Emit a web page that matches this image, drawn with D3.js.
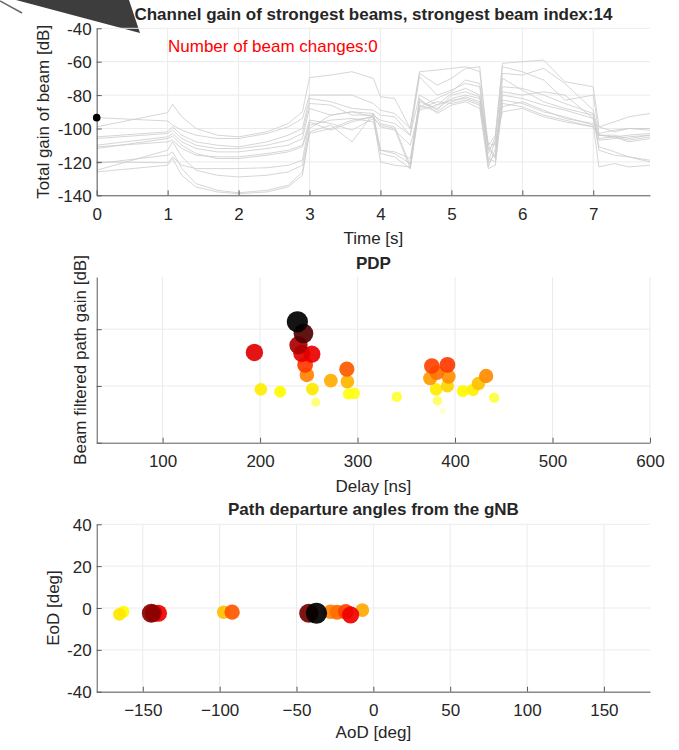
<!DOCTYPE html>
<html><head><meta charset="utf-8">
<script src="https://cdn.jsdelivr.net/npm/d3@7"></script>
<style>
body{margin:0;background:#fff;}
text{font-family:"Liberation Sans", Arial, Helvetica, sans-serif;}
</style></head><body>
<svg id="c" width="679" height="750"></svg>
<script>
// ---------- Data: channel gain of strongest beams ----------
const timeS = [0, 1.0, 1.07, 1.2, 1.4, 1.7, 2.0, 2.4, 2.7, 2.9, 3.0, 3.3, 3.6, 3.9, 4.0, 4.2, 4.42, 4.55, 4.8, 5.0, 5.2, 5.4, 5.52, 5.62, 5.72, 6.0, 6.3, 6.6, 7.0, 7.08, 7.3, 7.5, 7.8];
const beam1  = [-99, -90.5, -85.5, -93, -100, -104, -105, -102, -97, -90, -69.5, -68, -66, -70, -81, -82, -100, -66, -65, -64, -63, -66, -110, -104, -61, -60, -59, -72, -75, -99, -96, -93, -91];
const beam2  = [-93.5, -95.5, -98, -101, -104, -106, -106, -103, -99, -94, -80, -80, -80, -85, -89, -91, -100, -67, -74, -70, -64, -63, -115, -105, -63, -66, -71, -83, -80, -103, -101, -100, -100];
const beam3  = [-105, -102, -99, -104, -108, -110, -111, -108, -104, -100, -82, -84, -88, -89, -92, -93, -104, -69, -80, -77, -73, -75, -120, -107, -67, -68, -64, -73, -89, -104, -105, -104, -103];
const beam4  = [-106, -103, -101, -106, -110, -112, -112, -110, -107, -103, -85, -86, -92, -92, -95, -97, -104, -80, -86, -79, -76, -80, -123, -112, -75, -76, -80, -85, -91, -107, -106, -105, -104];
const beam5  = [-110, -105, -103, -108, -112, -114, -114, -112, -110, -106, -88, -92, -90, -93, -113, -114, -118, -84, -88, -82, -80, -82, -110, -117, -70, -77, -84, -88, -92, -113, -116, -117, -119];
const beam6  = [-111, -108, -107, -112, -116, -117, -117, -115, -113, -110, -95, -97, -101, -94, -98, -100, -124, -86, -90, -84, -81, -84, -112, -118, -80, -82, -86, -89, -94, -111, -114, -117, -120];
const beam7  = [-112, -106, -104.5, -110, -115, -118, -118, -116, -114, -111, -98, -95, -94, -96, -115, -117, -124, -88, -84, -85, -83, -86, -118, -120, -83, -85, -90, -93, -98, -123, -121, -123, -122];
const beam8  = [-120, -120.5, -117, -122, -124, -124, -124, -123.5, -122, -119, -96, -101, -96, -93, -120, -122, -123, -82, -91, -86, -84, -88, -124, -122, -85, -87, -92, -95, -99, -104, -105, -107, -105];
const beam9  = [-125, -113, -108, -117, -125, -128, -129, -128, -126, -122, -100, -92, -90, -91, -113, -115, -121, -83, -89, -80, -78, -81, -109, -110, -87, -84, -89, -94, -97, -99, -102, -100, -101];
const beam10 = [-126, -122, -118, -128, -135, -138, -139, -138, -135, -128, -102, -98, -108, -91, -97, -99, -122, -87, -82, -78, -71, -73, -113, -108, -90, -88, -93, -96, -99, -104, -104, -106, -104];
const beam11 = [-121, -116, -114, -124, -133, -137, -138.5, -137, -134, -126, -103, -100, -95, -93, -99, -101, -110, -89, -86, -83, -82, -85, -121, -115, -78, -80, -78, -80, -94, -106, -105, -108, -106];
const beams = [beam1, beam2, beam3, beam4, beam5, beam6, beam7, beam8, beam9, beam10, beam11];
const markerTime = [0];
const markerGain = [-93.5];
const timeTicks = [0, 1, 2, 3, 4, 5, 6, 7];
const gainTicks = [-140, -120, -100, -80, -60, -40];

// ---------- Data: PDP ----------
const pdpDelay = [238.3, 244.5, 239.4, 242.8, 253.1, 194.2, 246.2, 248.0, 272.6, 289.0, 289.6, 200.8, 220.6, 253.7, 257.2, 290.7, 296.5, 340.3, 376.2, 392.2, 381.4, 374.5, 393.3, 392.2, 380.6, 382.0, 387.5, 408.0, 418.3, 424.0, 431.9, 440.1];
const pdpGain  = [-97.4, -101.5, -105.6, -108.5, -108.8, -108.2, -112.6, -116.1, -118.1, -114.1, -118.5, -121.2, -122.0, -121.1, -125.7, -122.8, -122.6, -123.8, -113.0, -112.6, -115.3, -117.3, -116.7, -120.0, -121.2, -125.2, -128.8, -121.8, -121.4, -119.1, -116.5, -124.1];
const delayTicks = [100, 200, 300, 400, 500, 600];
const pdpGainTicks = [-140, -120, -100];

// ---------- Data: departure angles ----------
const aod     = [-165.2, -162.6, -144.5, -143.0, -139.8, -97.4, -91.9, -42.0, -37.0, -27.8, -23.5, -18.0, -14.8, -7.2];
const eod     = [-3.0, -1.8, -2.5, -2.5, -2.5, -2.0, -2.0, -2.5, -2.5, -1.8, -2.0, -1.8, -3.3, -1.0];
const aodGain = [-121.0, -122.0, -104.0, -108.0, -109.0, -119.0, -114.0, -103.0, -97.4, -116.0, -115.0, -113.0, -109.0, -118.0];
const aodTicks = [-150, -100, -50, 0, 50, 100, 150];
const eodTicks = [-40, -20, 0, 20, 40];

// ---------- Helpers ----------
const svg = d3.select("#c");
const FS = 17;
const axisCol = "#5a5a5a", txtCol = "#262626", gridCol = "#ebebeb";
const X0 = 96.7, X1 = 650;

const gMax = -97.4, gRange = 33;
const colorScale = d3.scaleLinear()
  .domain([gMax, gMax - 0.375 * gRange, gMax - 0.75 * gRange, gMax - gRange])
  .range(["#000000", "#ff0000", "#ffff00", "#ffffff"]).clamp(true);
const rScale = d3.scaleLinear().domain([-129, -125.5, -121, -97.4]).range([3.0, 4.6, 6.4, 10.6]).clamp(true);

function styleAxis(g) {
  g.select(".domain").attr("stroke", axisCol).attr("stroke-width", 1);
  g.selectAll(".tick line").attr("stroke", axisCol);
  g.selectAll(".tick text").attr("fill", txtCol).style("font-size", FS + "px")
    .style("font-family", '"Liberation Sans", Arial, sans-serif');
}

function panel(x, y, xTicks, yTicks, opts) {
  const g = svg.append("g");
  g.append("g").selectAll("line").data(xTicks).join("line")
    .attr("x1", d => x(d)).attr("x2", d => x(d))
    .attr("y1", y.range()[0]).attr("y2", y.range()[1])
    .attr("stroke", gridCol).attr("stroke-width", 1);
  g.append("g").selectAll("line").data(opts.yGrid).join("line")
    .attr("x1", X0).attr("x2", X1)
    .attr("y1", d => y(d)).attr("y2", d => y(d))
    .attr("stroke", gridCol).attr("stroke-width", 1);
  return g;
}

function axes(g, x, y, xTicks, yTicks, showYLabels) {
  const ax = g.append("g").attr("transform", `translate(0,${y.range()[0]})`)
    .call(d3.axisBottom(x).tickValues(xTicks).tickSizeInner(-5).tickSizeOuter(0).tickPadding(12.5));
  styleAxis(ax);
  const ay = g.append("g").attr("transform", `translate(${X0},0)`)
    .call(d3.axisLeft(y).tickValues(yTicks).tickSizeInner(-5).tickSizeOuter(0).tickPadding(5)
      .tickFormat(showYLabels ? (d => d3.format("d")(d).replace("−", "-")) : () => ""));
  styleAxis(ay);
  ay.selectAll(".tick text").attr("dy", "0.36em");
}

function label(txt, x, y, opt = {}) {
  const t = svg.append("text").text(txt).attr("x", x).attr("y", y)
    .attr("fill", opt.fill || txtCol).style("font-size", (opt.size || FS) + "px")
    .attr("text-anchor", opt.anchor || "middle")
    .style("font-weight", opt.bold ? "bold" : "normal");
  if (opt.rotate) t.attr("transform", `rotate(-90,${x},${y})`);
  return t;
}

// decorative dark pointer at top-left
svg.append("polygon").attr("points", "16,0 129,0 140,33").attr("fill", "#3d3d3d");
svg.append("line").attr("x1", 0).attr("y1", 1).attr("x2", 22).attr("y2", 13)
  .attr("stroke", "#6a6a6a").attr("stroke-width", 1.5);

// ---------- Panel 1 ----------
{
  const x = d3.scaleLinear().domain([0, 7.8]).range([X0, X1]);
  const y = d3.scaleLinear().domain([-140, -40]).range([195.3, 28.3]);
  const g = panel(x, y, timeTicks, gainTicks, { yGrid: gainTicks });
  const line = d3.line().x((d, i) => x(timeS[i])).y(d => y(d));
  g.append("g").selectAll("path").data(beams).join("path")
    .attr("d", line).attr("fill", "none").attr("stroke", "#cbcbcb").attr("stroke-width", 0.8);
  axes(g, x, y, timeTicks, gainTicks, true);
  g.selectAll("circle.m").data(markerTime).join("circle").attr("class", "m")
    .attr("cx", d => x(d)).attr("cy", (d, i) => y(markerGain[i])).attr("r", 3.8).attr("fill", "#000");
  label("Channel gain of strongest beams, strongest beam index:14", 373.4, 20, { bold: true });
  label("Number of beam changes:0", 168, 52, { fill: "#ff0000", anchor: "start" });
  label("Time [s]", 373.4, 244);
  label("Total gain of beam [dB]", 49, 111.8, { rotate: true });
}

// ---------- Panel 2 ----------
{
  const x = d3.scaleLinear().domain([32.4, 600]).range([X0, X1]);
  const y = d3.scaleLinear().domain([-140, -81.6]).range([442.7, 277]);
  const g = panel(x, y, delayTicks, pdpGainTicks, { yGrid: [-120, -100] });
  const idx = d3.range(pdpDelay.length).sort((a, b) => pdpGain[a] - pdpGain[b]);
  g.append("g").selectAll("circle").data(idx).join("circle")
    .attr("cx", i => x(pdpDelay[i])).attr("cy", i => y(pdpGain[i]))
    .attr("r", i => rScale(pdpGain[i])).attr("fill", i => colorScale(pdpGain[i]))
    .attr("fill-opacity", 0.92);
  axes(g, x, y, delayTicks, pdpGainTicks, false);
  label("PDP", 373.4, 269, { bold: true });
  label("Delay [ns]", 373.4, 492);
  label("Beam filtered path gain [dB]", 86, 360, { rotate: true });
}

// ---------- Panel 3 ----------
{
  const x = d3.scaleLinear().domain([-180, 180]).range([X0, X1]);
  const y = d3.scaleLinear().domain([-40, 40]).range([691.7, 524.3]);
  const g = panel(x, y, aodTicks, eodTicks, { yGrid: eodTicks });
  const idx = d3.range(aod.length).sort((a, b) => aodGain[a] - aodGain[b]);
  g.append("g").selectAll("circle").data(idx).join("circle")
    .attr("cx", i => x(aod[i])).attr("cy", i => y(eod[i]))
    .attr("r", i => rScale(aodGain[i])).attr("fill", i => colorScale(aodGain[i]))
    .attr("fill-opacity", 0.92);
  axes(g, x, y, aodTicks, eodTicks, true);
  label("Path departure angles from the gNB", 373.4, 515, { bold: true });
  label("AoD [deg]", 373.4, 738);
  label("EoD [deg]", 59, 608, { rotate: true });
}
</script>
</body></html>
